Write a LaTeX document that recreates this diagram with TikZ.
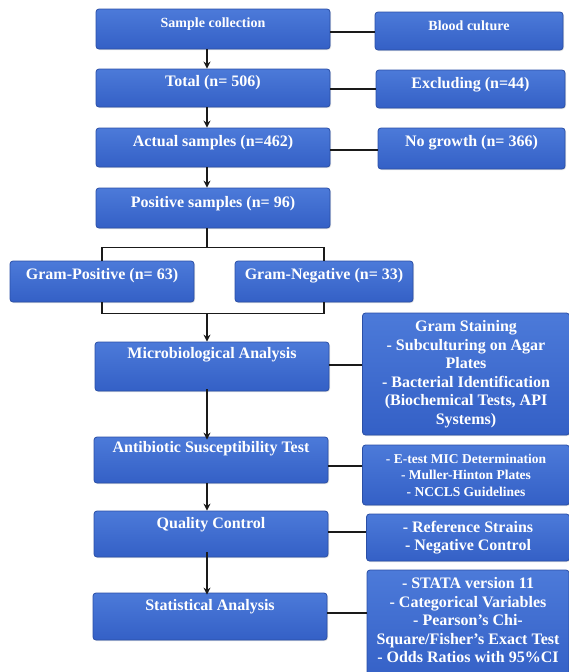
\documentclass[tikz,border=0pt]{standalone}
\usepackage{fontspec}
\setmainfont{Liberation Serif}
\usetikzlibrary{arrows.meta,shadows}
\definecolor{blueT}{HTML}{4C7AD9}
\definecolor{blueB}{HTML}{3460C6}
\definecolor{bordc}{HTML}{2A4FA6}
\definecolor{linec}{HTML}{1A1A1A}
\tikzset{
  bx/.style={draw=bordc, line width=0.8pt, rounded corners=3pt, top color=blueT, bottom color=blueB, inner sep=0pt,
    drop shadow={shadow xshift=1pt, shadow yshift=-1pt, opacity=0.25}},
  tx/.style={text=white, font=\bfseries\fontsize{16}{18.5}\selectfont, align=center, inner sep=0pt},
  txs/.style={tx, font=\bfseries\fontsize{14}{16}\selectfont},
  txe/.style={tx, font=\bfseries\fontsize{13.5}{16.5}\selectfont},
  conn/.style={draw=linec, line width=1.6pt},
  arr/.style={conn, -{Stealth[length=7pt,width=7pt]}},
  mainw/.style={minimum width=234pt}
}
\begin{document}
\begin{tikzpicture}[x=1pt,y=-1pt]
\useasboundingbox (0,0) rectangle (569,672);
\clip (0,0) rectangle (569,672);
% main boxes
\node[bx, mainw, minimum height=40pt] (sc) at (213,29) {};
\node[txs] (sct) at (213,24) {Sample collection};
\node[bx, mainw, minimum height=38pt] (tot) at (213,88) {};
\node[tx] (tott) at (213,83) {Total (n= 506)};
\node[bx, mainw, minimum height=39pt] (act) at (213,147.5) {};
\node[tx] (actt) at (213,143) {Actual samples (n=462)};
\node[bx, mainw, minimum height=40pt] (pos) at (213,208) {};
\node[tx] (post) at (213,204) {Positive samples (n= 96)};
\node[bx, minimum width=184pt, minimum height=41pt] (gp) at (102,281.5) {};
\node[tx] (gpt) at (102,276) {Gram-Positive (n= 63)};
\node[bx, minimum width=178pt, minimum height=41pt] (gn) at (324,281.5) {};
\node[tx] (gnt) at (324,276) {Gram-Negative (n= 33)};
\node[bx, mainw, minimum height=49pt] (mic) at (212,366.5) {};
\node[tx] (mict) at (212,355) {Microbiological Analysis};
\node[bx, mainw, minimum height=46pt] (ant) at (211,460) {};
\node[tx] (antt) at (211,449) {Antibiotic Susceptibility Test};
\node[bx, mainw, minimum height=46pt] (qc) at (211,534) {};
\node[tx] (qct) at (211,525) {Quality Control};
\node[bx, mainw, minimum height=47pt] (sta) at (210,616.5) {};
\node[tx] (stat) at (210,607) {Statistical Analysis};
% right boxes
\node[bx, minimum width=188pt, minimum height=38pt] (bc) at (469,31) {};
\node[txs] (bct) at (469,26) {Blood culture};
\node[bx, minimum width=189pt, minimum height=38pt] (exc) at (470.5,89) {};
\node[tx] (exct) at (470.5,85) {Excluding (n=44)};
\node[bx, minimum width=187pt, minimum height=41pt] (nog) at (471.5,148.5) {};
\node[tx] (nogt) at (471.5,143) {No growth (n= 366)};
\node[bx, tx, minimum width=207pt, minimum height=122pt] (gs) at (466,374)
  {Gram Staining\\- Subculturing on Agar\\Plates\\- Bacterial Identification\\(Biochemical Tests, API\\Systems)};
\node[bx, txe, minimum width=207pt, minimum height=60pt] (et) at (466,475)
  {- E-test MIC Determination\\- Muller-Hinton Plates\\- NCCLS Guidelines};
\node[bx, tx, minimum width=203pt, minimum height=47pt] (ref) at (468,537.5)
  {- Reference Strains\\- Negative Control};
\node[bx, minimum width=202pt, minimum height=112pt] (sts) at (468,626) {};
\node[tx] (stst) at (468,620.5)
  {- STATA version 11\\- Categorical Variables\\- Pearson's Chi-\\Square/Fisher's Exact Test\\- Odds Ratios with 95\%CI};
% connectors to right boxes
\draw[conn] (sc.east |- 0,32) -- (bc.west |- 0,32);
\draw[conn] (tot.east |- 0,89) -- (exc.west |- 0,89);
\draw[conn] (act.east |- 0,150) -- (nog.west |- 0,150);
\draw[conn] (mic.east |- 0,365) -- (gs.west |- 0,365);
\draw[conn] (ant.east |- 0,466) -- (et.west |- 0,466);
\draw[conn] (qc.east |- 0,532) -- (ref.west |- 0,532);
\draw[conn] (sta.east |- 0,613) -- (sts.west |- 0,613);
% vertical arrows
\coordinate (ax) at (207,0);
\draw[arr] (sc.south -| ax) -- (tot.north -| ax);
\draw[arr] (tot.south -| ax) -- (act.north -| ax);
\draw[arr] (act.south -| ax) -- (pos.north -| ax);
% split bracket
\coordinate (split) at (207,248);
\draw[conn] (pos.south -| ax) -- (split);
\draw[conn, line join=miter] (gp.north) -- ++(0,-13) -| (gn.north);
% merge bracket
\coordinate (merge) at (207,313);
\draw[conn, line join=miter] (gp.south) -- ++(0,11) -| (gn.south);
\draw[arr] (merge) -- (mic.north -| ax);
\draw[arr] ([yshift=2pt]mic.south -| ax) -- ([yshift=-3pt]ant.north -| ax);
\draw[arr] (ant.south -| ax) -- (qc.north -| ax);
\draw[arr] ([yshift=5pt]qc.south -| ax) -- ([yshift=-2pt]sta.north -| ax);
\end{tikzpicture}
\end{document}
